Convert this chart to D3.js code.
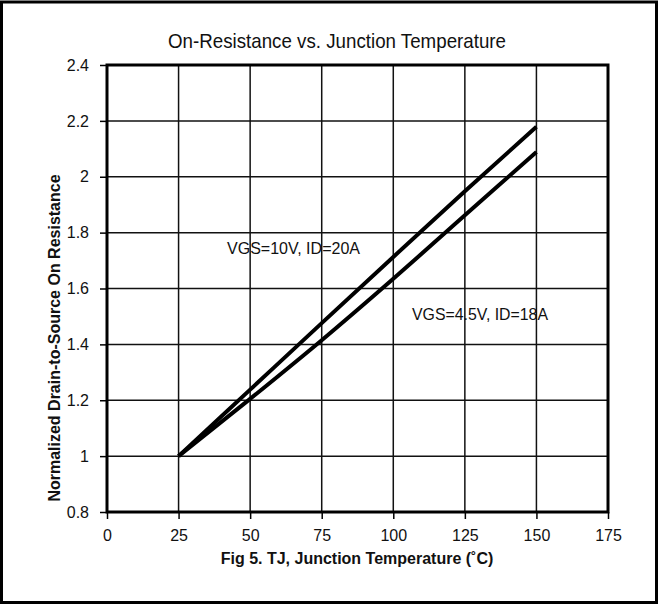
<!DOCTYPE html>
<html>
<head>
<meta charset="utf-8">
<script src="https://cdn.jsdelivr.net/npm/d3@7/dist/d3.min.js"></script>
<style>
html,body{margin:0;padding:0;background:#fff;}
svg{display:block;}
</style>
</head>
<body>
<svg id="chart" width="659" height="604"></svg>
<script>
const temps = [25, 50, 75, 100, 125, 150];
const seriesNames = ["VGS=10V, ID=20A", "VGS=4.5V, ID=18A"];
const vgs10 = [1.0, 1.238, 1.476, 1.713, 1.948, 2.179];
const vgs45 = [1.0, 1.205, 1.415, 1.635, 1.862, 2.089];
const xTicks = [0, 25, 50, 75, 100, 125, 150, 175];
const yTicks = [0.8, 1, 1.2, 1.4, 1.6, 1.8, 2, 2.2, 2.4];
const yTickLabels = ["0.8", "1", "1.2", "1.4", "1.6", "1.8", "2", "2.2", "2.4"];

const svg = d3.select("#chart");
const W = 659, H = 604;
const m = {left: 107, right: 608, top: 65, bottom: 512};
const font = "'Liberation Sans',Arial,sans-serif";

// outer border
svg.append("rect").attr("x", 1.5).attr("y", 2).attr("width", W - 4).attr("height", H - 3.5)
  .attr("fill", "none").attr("stroke", "#000").attr("stroke-width", 3);

const x = d3.scaleLinear().domain([0, 175]).range([m.left, m.right]);
const y = d3.scaleLinear().domain([0.8, 2.4]).range([m.bottom, m.top]);

// grid
const grid = svg.append("g");
grid.selectAll("line.v").data(xTicks.slice(1, -1)).join("line")
  .attr("x1", d => x(d)).attr("x2", d => x(d)).attr("y1", m.top).attr("y2", m.bottom)
  .attr("stroke", "#111").attr("stroke-width", 1.5);
grid.selectAll("line.h").data(yTicks.slice(1, -1)).join("line")
  .attr("y1", d => y(d)).attr("y2", d => y(d)).attr("x1", m.left).attr("x2", m.right)
  .attr("stroke", "#111").attr("stroke-width", 1.5);

// axes
const xAxis = d3.axisBottom(x).tickValues(xTicks).tickSize(7).tickPadding(11);
const gx = svg.append("g").attr("transform", `translate(0,${m.bottom})`).call(xAxis);
gx.select(".domain").remove();
gx.selectAll(".tick line").attr("stroke", "#000").attr("stroke-width", 1.5);
gx.selectAll(".tick text").attr("font-family", font).attr("font-size", 16).attr("fill", "#111");

const yAxis = d3.axisLeft(y).tickValues(yTicks).tickFormat((d, i) => yTickLabels[i]).tickSize(7).tickPadding(11);
const gy = svg.append("g").attr("transform", `translate(${m.left},0)`).call(yAxis);
gy.select(".domain").remove();
gy.selectAll(".tick line").attr("stroke", "#000").attr("stroke-width", 1.5);
gy.selectAll(".tick text").attr("font-family", font).attr("font-size", 16).attr("fill", "#111");

// plot frame
svg.append("rect").attr("x", m.left).attr("y", m.top).attr("width", m.right - m.left).attr("height", m.bottom - m.top)
  .attr("fill", "none").attr("stroke", "#000").attr("stroke-width", 3);

// lines
const line = d3.line().x((d, i) => x(temps[i])).y(d => y(d)).curve(d3.curveMonotoneX);
[vgs10, vgs45].forEach(s => {
  svg.append("path").datum(s).attr("d", line).attr("fill", "none")
    .attr("stroke", "#000").attr("stroke-width", 4).attr("stroke-linejoin", "round");
});

// labels
svg.append("text").attr("x", 227).attr("y", 254).text(seriesNames[0])
  .attr("font-family", font).attr("font-size", 17).attr("textLength", 133).attr("lengthAdjust", "spacingAndGlyphs").attr("fill", "#111");
svg.append("text").attr("x", 412).attr("y", 320).text(seriesNames[1])
  .attr("font-family", font).attr("font-size", 17).attr("textLength", 136).attr("lengthAdjust", "spacingAndGlyphs").attr("fill", "#111");

// title
svg.append("text").attr("x", 168).attr("y", 48)
  .text("On-Resistance vs. Junction Temperature")
  .attr("font-family", font).attr("font-size", 21).attr("textLength", 338).attr("lengthAdjust", "spacingAndGlyphs").attr("fill", "#111");

// x title
svg.append("text").attr("x", 357).attr("y", 564).attr("text-anchor", "middle")
  .text("Fig 5. TJ, Junction Temperature (˚C)")
  .attr("font-family", font).attr("font-weight", "bold").attr("font-size", 16).attr("fill", "#111");

// y title
svg.append("text").attr("transform", `translate(60,${(176 + 500) / 2}) rotate(-90)`).attr("text-anchor", "middle")
  .text("Normalized Drain-to-Source On Resistance")
  .attr("font-family", font).attr("font-weight", "bold").attr("font-size", 16).attr("fill", "#111");
</script>
</body>
</html>
